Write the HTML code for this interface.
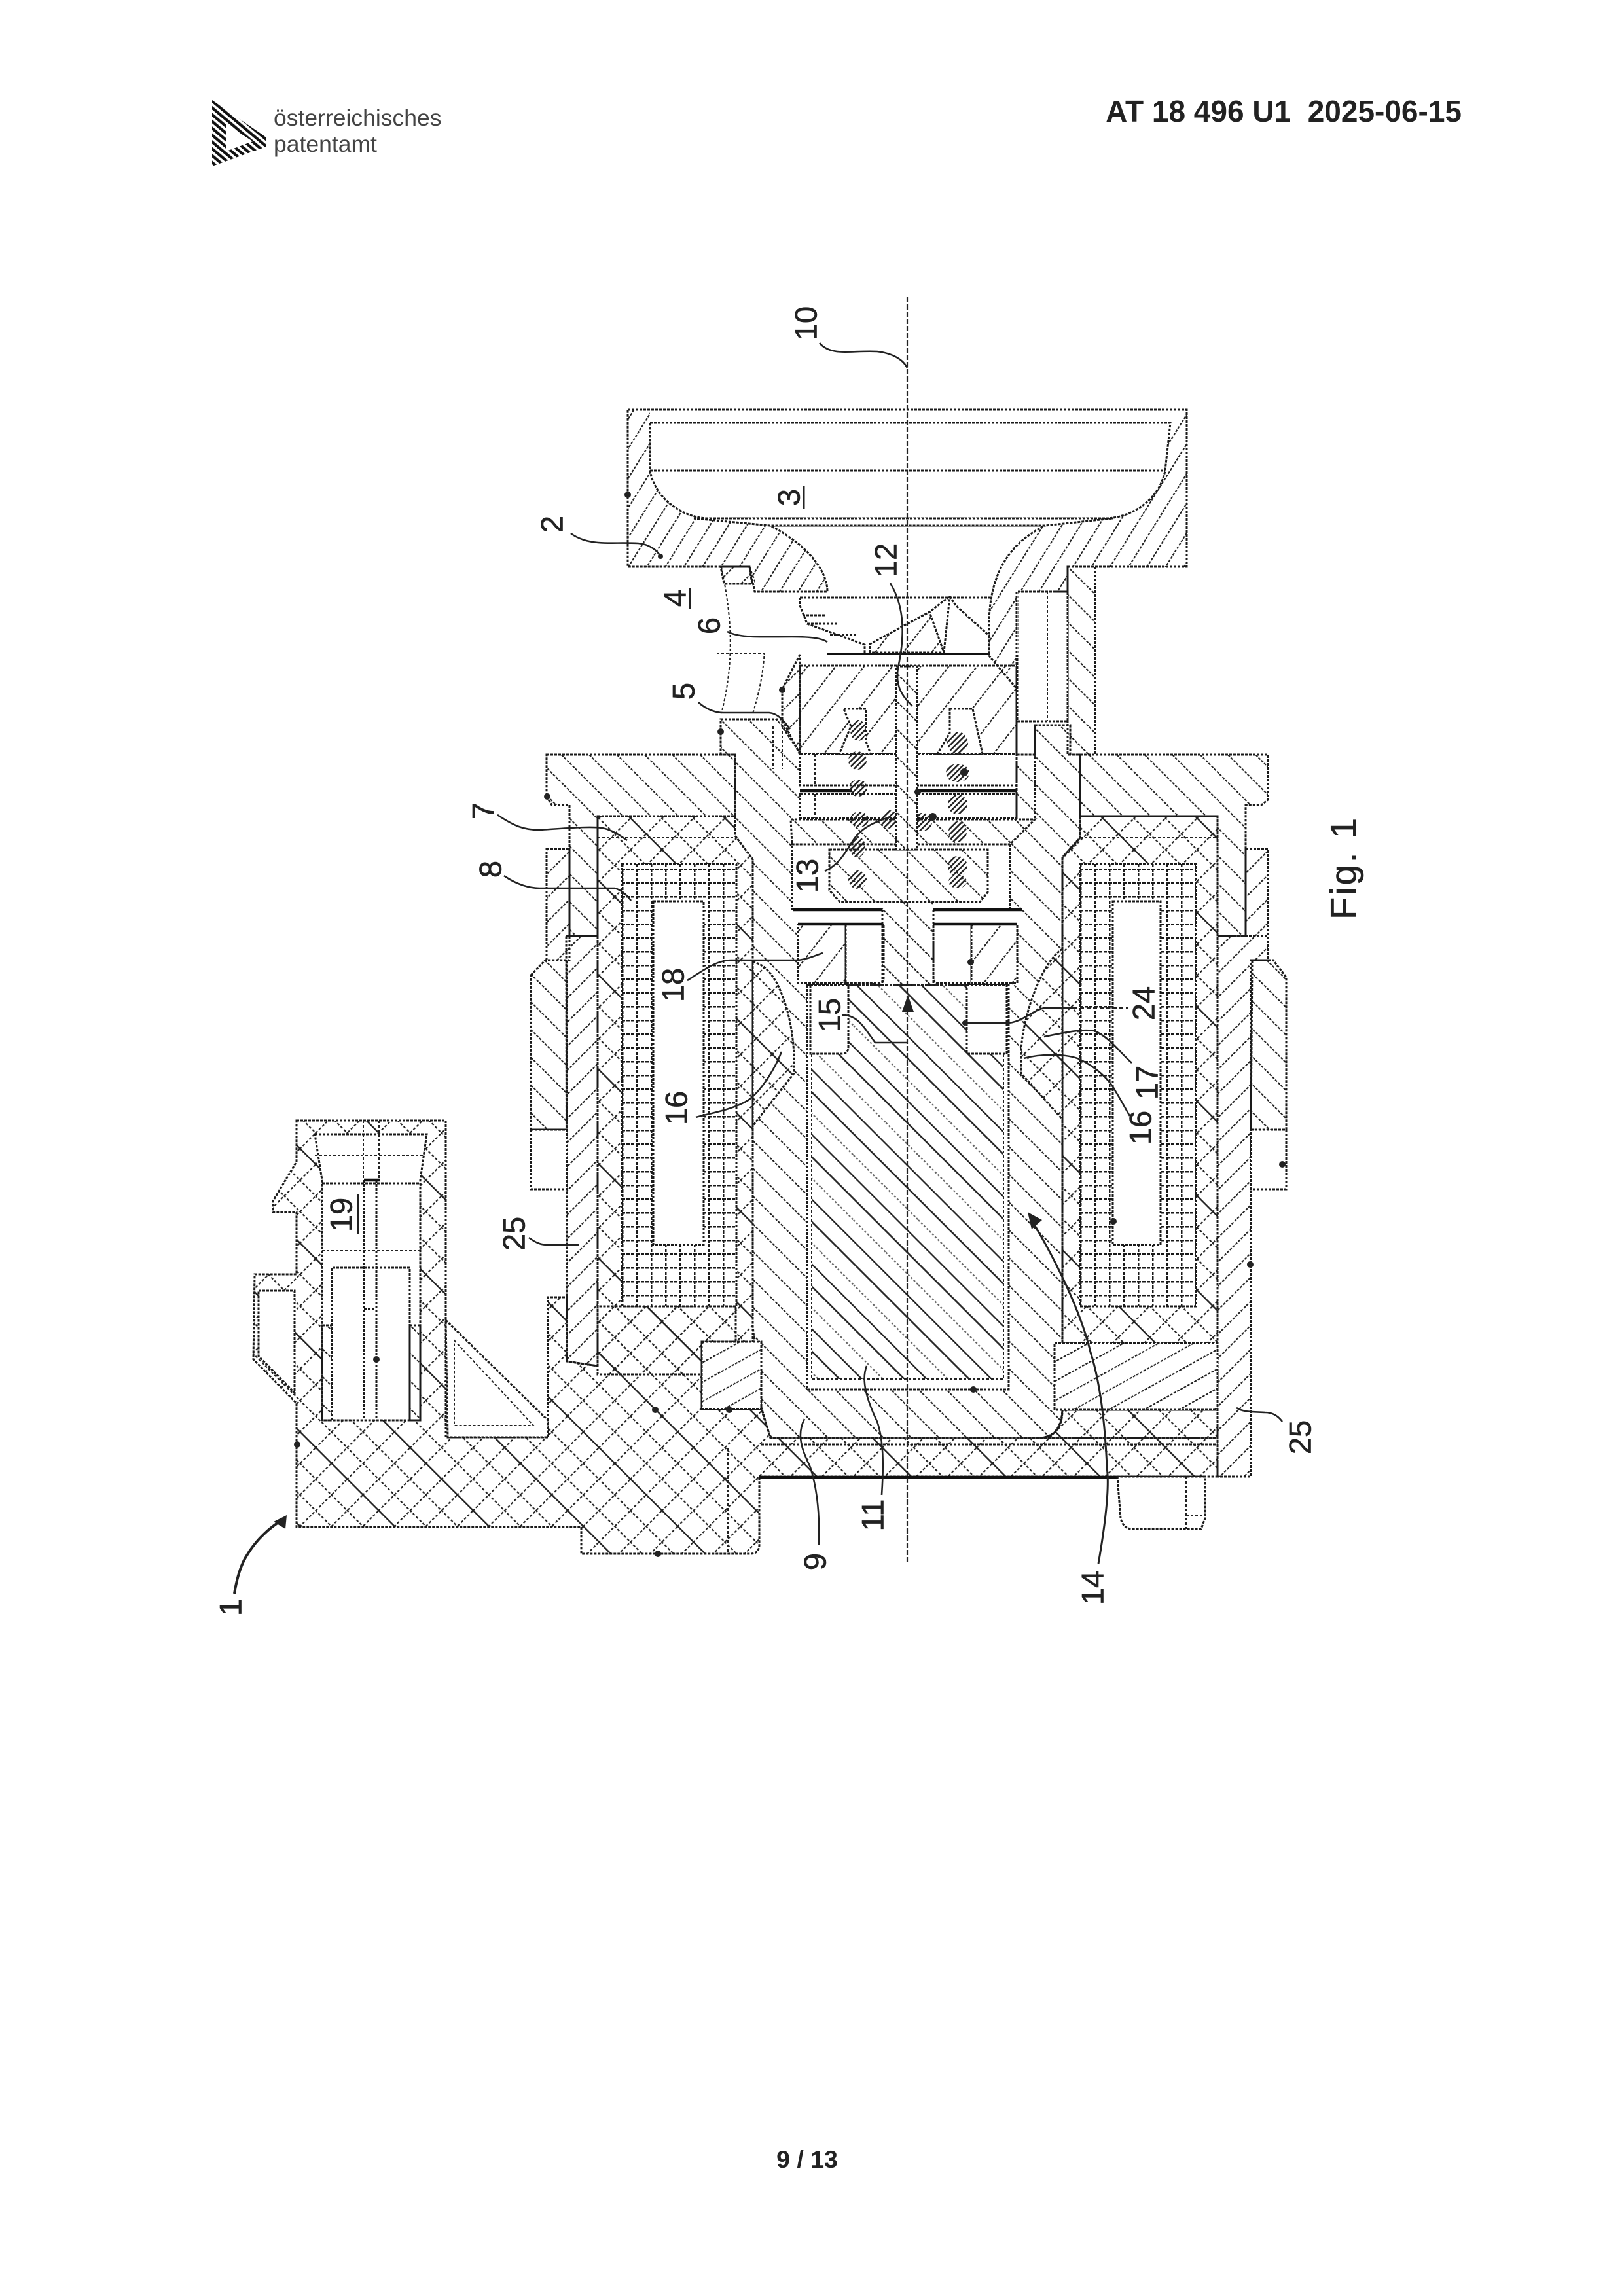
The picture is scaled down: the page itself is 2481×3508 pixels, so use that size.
<!DOCTYPE html>
<html><head><meta charset="utf-8"><style>
html,body{margin:0;padding:0;background:#fff}
svg{display:block}
.o{fill:none;stroke:#1a1a1a;stroke-width:3;stroke-dasharray:4 2}
.t{fill:none;stroke:#222;stroke-width:2;stroke-dasharray:4 3}
.b{fill:none;stroke:#111;stroke-width:4.5}
.w{fill:#fff;stroke:#1a1a1a;stroke-width:3;stroke-dasharray:4 2}
.l{fill:none;stroke:#222;stroke-width:2.6}
.n{font:47px "Liberation Sans",sans-serif;fill:#222;stroke:#222;stroke-width:.6;text-anchor:middle;dominant-baseline:central}
</style></head><body>
<svg xmlns="http://www.w3.org/2000/svg" width="2481" height="3508" viewBox="0 0 2481 3508">
<defs>
<pattern id="a" width="30" height="30" patternUnits="userSpaceOnUse" patternTransform="rotate(-45)"><line x1="1" y1="0" x2="1" y2="30" stroke="#222" stroke-width="2.2" stroke-dasharray="4 2"/></pattern>
<pattern id="c" width="24" height="30" patternUnits="userSpaceOnUse" patternTransform="rotate(32)"><line x1="1" y1="0" x2="1" y2="30" stroke="#222" stroke-width="2.2" stroke-dasharray="4 2"/></pattern>
<pattern id="e" width="34" height="30" patternUnits="userSpaceOnUse" patternTransform="rotate(38)"><line x1="1" y1="0" x2="1" y2="30" stroke="#222" stroke-width="2.2" stroke-dasharray="4 2"/></pattern>
<pattern id="f" width="26" height="30" patternUnits="userSpaceOnUse" patternTransform="rotate(61)"><line x1="1" y1="0" x2="1" y2="30" stroke="#222" stroke-width="2.2" stroke-dasharray="4 2"/></pattern>
<pattern id="d" width="26" height="30" patternUnits="userSpaceOnUse" patternTransform="rotate(45)"><line x1="1" y1="0" x2="1" y2="30" stroke="#222" stroke-width="2.2" stroke-dasharray="4 2"/></pattern>
<pattern id="x" width="102" height="34" patternUnits="userSpaceOnUse" patternTransform="rotate(-45)"><g stroke="#222" fill="none"><line x1="1" y1="0" x2="1" y2="34" stroke-width="2.8"/><line x1="35" y1="0" x2="35" y2="34" stroke-width="2.2" stroke-dasharray="4 3"/><line x1="69" y1="0" x2="69" y2="34" stroke-width="2.2" stroke-dasharray="4 3"/><line x1="0" y1="1" x2="102" y2="1" stroke-width="2.2" stroke-dasharray="4 3"/></g></pattern>
<pattern id="g1" x="4" y="4" width="22" height="21" patternUnits="userSpaceOnUse"><g stroke="#1a1a1a" stroke-width="3" stroke-dasharray="5 2"><line x1="1" y1="0" x2="1" y2="21"/><line x1="0" y1="1" x2="22" y2="1"/></g></pattern>
<pattern id="g2" x="0" y="4" width="22" height="21" patternUnits="userSpaceOnUse"><g stroke="#1a1a1a" stroke-width="3" stroke-dasharray="5 2"><line x1="1" y1="0" x2="1" y2="21"/><line x1="0" y1="1" x2="22" y2="1"/></g></pattern>
<pattern id="k" width="70" height="70" patternUnits="userSpaceOnUse" patternTransform="rotate(-45)"><g stroke="#222" fill="none"><line x1="1" y1="0" x2="1" y2="70" stroke-width="2.6"/><line x1="24" y1="0" x2="24" y2="70" stroke-width="2.2" stroke-dasharray="3 3" stroke-opacity=".7"/><line x1="47" y1="0" x2="47" y2="70" stroke-width="2.6"/></g></pattern>
<pattern id="m" width="6" height="6" patternUnits="userSpaceOnUse" patternTransform="rotate(45)"><line x1="1" y1="0" x2="1" y2="6" stroke="#222" stroke-width="3"/></pattern>
<pattern id="lg" width="8" height="8" patternUnits="userSpaceOnUse" patternTransform="rotate(-50)"><line x1="2" y1="0" x2="2" y2="8" stroke="#111" stroke-width="4.6"/></pattern>
</defs>
<rect width="2481" height="3508" fill="#fff"/>

<!-- header -->
<path d="M324,153 L407,210 V224 L324,254 Z M346,190 V231 L386,216 Z" fill="url(#lg)" fill-rule="evenodd"/>
<text x="418" y="192" font-family="Liberation Sans,sans-serif" font-size="35.5" fill="#444">österreichisches</text>
<text x="418" y="232" font-family="Liberation Sans,sans-serif" font-size="35.5" fill="#444">patentamt</text>
<text x="2233" y="186" font-family="Liberation Sans,sans-serif" font-size="46" font-weight="bold" text-anchor="end" fill="#222" xml:space="preserve">AT 18 496 U1  2025-06-15</text>
<text x="1233" y="3312" font-family="Liberation Sans,sans-serif" font-size="37.5" font-weight="bold" text-anchor="middle" fill="#222">9 / 13</text>

<!-- outer walls 25 -->
<path class="o" style="fill:url(#d)" d="M865,1430 H913 V2087 L866,2080 Z"/>
<path class="o" style="fill:url(#d)" d="M1860,1430 H1937 V1467 H1911 V2256 H1860 Z"/>

<!-- outer rings -->
<path class="o" style="fill:url(#a)" d="M811,1490 L833,1467 H866 V1726 H811 Z"/>
<path class="o" style="fill:#fff" d="M811,1726 H866 V1817 H811 Z"/>
<path class="o" style="fill:url(#d)" d="M835,1297 H870 V1467 H835 Z"/>
<path class="o" style="fill:url(#a)" d="M1913,1467 H1945 L1965,1493 V1726 H1911 Z"/>
<path class="o" style="fill:#fff" d="M1911,1726 H1965 V1817 H1911 Z"/>
<path class="o" style="fill:url(#d)" d="M1903,1297 H1937 V1430 H1903 Z"/>

<!-- bobbins cross hatch -->
<path class="o" style="fill:url(#x)" d="M913,1247 H1123 V1277 L1150,1313 V2100 H913 Z"/>
<path class="o" style="fill:url(#x)" d="M1860,1247 H1650 V1280 L1623,1310 V2052 H1860 Z"/>
<line class="t" x1="913" y1="1280" x2="1123" y2="1280"/>
<line class="t" x1="1650" y1="1280" x2="1860" y2="1280"/>

<!-- connector + overmould -->
<path class="o" style="fill:url(#x)" d="M453,1712 H681 V2196 H837 V1982 H866 V2080 L913,2087 V1996 H1124 V2050 H1072 V2153 H1163 L1177,2197 H1860 V2256 H1160 V2360 Q1160,2374 1146,2374 H888 V2333 H453 V2144 L387,2077 L389,1947 H453 V1852 H417 V1835 L453,1775 Z"/>
<path class="o" style="fill:url(#x)" d="M1623,2154 H1860 V2197 H1585 Q1623,2197 1623,2154 Z"/>
<line class="t" x1="1112" y1="2213" x2="1112" y2="2373"/>
<!-- gusset -->
<path class="o" style="fill:#fff" d="M681,2017 L837,2170 V2196 H684 Z"/>
<path class="t" d="M694,2048 L815,2178 H694 Z"/>
<!-- clip -->
<path class="o" style="fill:#fff" d="M395,1972 H450 V2128 L395,2072 Z"/>
<!-- connector interior -->
<path class="o" style="fill:#fff" d="M481,1733 H652 L642,1803 V2170 H492 V1803 Z"/>
<line class="t" x1="481" y1="1765" x2="650" y2="1765"/>
<line class="t" x1="492" y1="1911" x2="642" y2="1911"/>
<line class="o" x1="492" y1="1808" x2="642" y2="1808"/>
<path class="o" d="M507,2170 V1937 H626 V2170"/>
<path class="o" style="fill:url(#a)" d="M492,2025 H507 V2170 H492 Z"/>
<path class="o" style="fill:url(#a)" d="M626,2025 H642 V2170 H626 Z"/>
<path class="o" d="M556,1803 V2170 M575,1803 V2170 M556,2000 H575"/>
<line class="t" x1="555" y1="1712" x2="555" y2="1803"/><line class="t" x1="579" y1="1712" x2="579" y2="1803"/>
<line class="b" x1="556" y1="1803" x2="580" y2="1803"/>

<!-- coils -->
<rect x="950" y="1320" width="175" height="676" fill="#fff"/>
<rect x="950" y="1320" width="175" height="676" style="fill:url(#g1)" class="o"/>
<rect x="998" y="1377" width="77" height="525" class="w"/>
<rect x="1650" y="1320" width="177" height="676" fill="#fff"/>
<rect x="1650" y="1320" width="177" height="676" style="fill:url(#g2)" class="o"/>
<rect x="1700" y="1377" width="73" height="525" class="w"/>

<!-- flange 7 -->
<path class="o" style="fill:url(#a)" d="M835,1153 H1123 V1247 H913 V1430 H870 V1230 H843 L835,1217 Z"/>
<path class="o" style="fill:url(#a)" d="M1650,1153 H1937 V1222 L1927,1230 H1903 V1430 H1860 V1247 H1650 Z"/>

<!-- neck -->
<path class="t" d="M1102,866 C1115,930 1125,1000 1102,1090 M1145,866 C1175,940 1175,1010 1150,1090 M1095,998 H1172"/>
<path class="o" style="fill:url(#d)" d="M1101,866 H1145 L1149,892 H1106 Z"/>
<path class="o" style="fill:url(#a)" d="M1631,866 H1673 V1153 H1631 Z"/>

<!-- yoke 9 -->
<path class="o" style="fill:url(#a)" d="M1101,1099 H1195 L1222,1153 H1581 V1108 H1635 V1153 H1650 V1280 L1623,1310 V2150 Q1623,2197 1585,2197 H1177 L1163,2150 L1150,2026 V1313 L1123,1277 V1153 H1101 Z"/>
<path class="t" d="M1181,1110 V1175 M1195,1110 V1175"/>
<!-- bulges 16 -->
<path fill="#fff" d="M1150,1470 C1190,1475 1213,1560 1213,1620 L1213,1640 L1150,1720 Z"/>
<path class="o" style="fill:url(#x)" d="M1150,1470 C1190,1475 1213,1560 1213,1620 L1213,1640 L1150,1720 Z"/>
<path fill="#fff" d="M1623,1450 C1590,1470 1560,1560 1560,1610 L1560,1640 L1623,1710 Z"/>
<path class="o" style="fill:url(#x)" d="M1623,1450 C1590,1470 1560,1560 1560,1610 L1560,1640 L1623,1710 Z"/>
<!-- bottom blocks -->
<rect x="1072" y="2050" width="91" height="103" fill="#fff"/>
<rect class="o" x="1072" y="2050" width="91" height="103" style="fill:url(#f)"/>
<rect x="1611" y="2052" width="249" height="102" fill="#fff"/>
<rect class="o" x="1611" y="2052" width="249" height="102" style="fill:url(#f)"/>
<line class="o" x1="1163" y1="2207" x2="1860" y2="2207"/>
<line class="b" x1="1160" y1="2257" x2="1840" y2="2257"/>
<path class="o" style="fill:#fff" d="M1707,2256 L1712,2320 Q1716,2336 1730,2336 H1835 L1841,2320 V2256 Z"/>
<path class="t" d="M1812,2256 V2336 M1812,2315 H1841"/>

<!-- core 11 -->
<rect class="o" x="1233" y="1505" width="308" height="618" style="fill:#fff"/>
<rect class="t" x="1240" y="1505" width="293" height="602" style="fill:url(#k)"/>
<path class="w" d="M1238,1505 H1296 V1600 Q1296,1610 1286,1610 H1238 Z"/>
<path class="w" d="M1477,1505 H1538 V1610 H1477 Z"/>

<!-- pole pieces 18 -->
<rect x="1219" y="1412" width="73" height="90" fill="#fff"/>
<rect class="o" x="1219" y="1412" width="73" height="90" style="fill:url(#e)"/>
<path class="w" d="M1292,1412 H1350 V1494 Q1350,1502 1342,1502 H1292 Z"/>
<path class="w" d="M1426,1412 H1484 V1502 H1434 Q1426,1502 1426,1494 Z"/>
<rect x="1484" y="1412" width="70" height="90" fill="#fff"/>
<rect class="o" x="1484" y="1412" width="70" height="90" style="fill:url(#e)"/>

<!-- lower valve block -->
<rect x="1208" y="1252" width="335" height="160" fill="#fff"/>
<rect x="1348" y="1378" width="78" height="34" fill="#fff"/>
<rect x="1348" y="1378" width="78" height="127" style="fill:url(#a)"/>
<path class="o" style="fill:url(#a)" d="M1208,1252 H1581 L1543,1290 H1210 Z"/>
<path class="o" style="fill:url(#a)" d="M1267,1298 H1509 V1363 L1497,1378 H1283 L1267,1360 Z"/>
<path class="o" d="M1210,1286 V1390 M1543,1290 V1390 M1348,1390 V1505 M1426,1390 V1505"/>
<path class="b" d="M1212,1390 H1348 M1426,1390 H1562 M1219,1412 H1348 M1426,1412 H1554"/>

<!-- upper insert -->
<rect x="1222" y="997" width="331" height="255" fill="#fff"/>
<path class="o" style="fill:url(#e)" d="M1222,1017 H1553 V1152 H1222 Z"/>
<rect class="w" x="1222" y="1152" width="331" height="48"/>
<rect class="w" x="1222" y="1213" width="331" height="37"/>
<path class="t" d="M1245,1152 V1200 M1245,1213 V1250"/>
<path class="b" d="M1222,1208 H1302 M1401,1208 H1553 M1264,998 H1512"/>
<path class="o" d="M1270,1017 H1500"/>
<path class="o" style="fill:#fff" d="M1289,1083 H1323 V1133 L1330,1152 H1282 L1300,1110 Z"/>
<path class="o" style="fill:#fff" d="M1451,1083 H1486 L1501,1152 H1432 L1451,1120 Z"/>
<path class="o" d="M1553,1000 V1250 M1581,1108 V1250"/>
<g fill="url(#m)">
<ellipse cx="1311" cy="1116" rx="12" ry="16"/><ellipse cx="1463" cy="1135" rx="16" ry="17"/><ellipse cx="1310" cy="1162" rx="14" ry="14"/><ellipse cx="1463" cy="1181" rx="18" ry="14"/><ellipse cx="1311" cy="1204" rx="14" ry="13"/><ellipse cx="1463" cy="1229" rx="15" ry="15"/><ellipse cx="1313" cy="1252" rx="14" ry="12"/><ellipse cx="1359" cy="1252" rx="13" ry="14"/><ellipse cx="1409" cy="1256" rx="15" ry="14"/><ellipse cx="1463" cy="1271" rx="14" ry="16"/><ellipse cx="1310" cy="1294" rx="12" ry="16"/><ellipse cx="1310" cy="1344" rx="14" ry="14"/><ellipse cx="1463" cy="1324" rx="15" ry="16"/><ellipse cx="1463" cy="1347" rx="14" ry="10"/>
</g>
<rect class="w" x="1554" y="904" width="77" height="198"/>
<line class="t" x1="1600" y1="904" x2="1600" y2="1102"/>

<!-- cup 2 -->
<path fill="#fff" d="M1153,803 H1555 V997 H1153 Z"/>
<path class="o" style="fill:url(#c)" d="M959,626 H1813 V866 H1631 V904 H1553 V1052 L1511,1002 V955 C1511,880 1540,830 1597,803 H1176 C1230,830 1264,870 1264,904 H1153 L1145,866 H959 Z"/>
<rect x="993" y="627" width="795" height="19" fill="#fff"/>
<path class="o" style="fill:#fff" d="M993,646 H1788 L1780,719 C1770,770 1720,792 1689,792 H1080 C1040,790 1000,760 993,719 Z"/>
<path class="o" d="M993,719 H1780 M959,626 H1813"/>
<path class="o" style="fill:#fff" d="M1060,792 H1700 L1597,803 H1176 Z"/>

<!-- valve space -->
<path class="o" d="M1222,913 H1512"/>
<path class="o" d="M1222,913 L1222,925 L1233,953 L1321,985 V997 M1226,940 H1262 M1233,953 H1280 M1268,970 H1310"/>
<path class="o" style="fill:url(#e)" d="M1329,997 V984 L1386,953 L1420,935 L1442,997 Z"/>
<path class="o" d="M1386,953 L1420,935 L1451,911 L1460,925 L1512,972 M1442,997 L1451,911"/>
<path class="o" style="fill:url(#d)" d="M1222,1000 L1195,1053 V1110 L1222,1150 Z"/>

<!-- stem -->
<rect x="1369" y="1018" width="32" height="280" fill="#fff"/>
<rect x="1369" y="1018" width="32" height="280" style="fill:url(#a)" class="o"/>

<!-- axis -->
<line x1="1386" y1="454" x2="1386" y2="2390" stroke="#222" stroke-width="2.2" stroke-dasharray="8 3"/>
<polygon points="1387,1520 1396,1546 1378,1546" fill="#222"/>

<!-- leaders -->
<g class="l">
<path d="M1252,524 C1270,545 1300,535 1340,537 C1365,540 1380,550 1386,562"/>
<path d="M872,815 C900,835 930,828 975,830 C995,832 1005,843 1009,850"/>
<path d="M1111,965 C1130,975 1160,973 1210,973 C1240,973 1255,975 1264,981"/>
<path d="M1067,1073 C1080,1085 1095,1089 1105,1089 H1175 C1190,1090 1200,1105 1207,1114"/>
<path d="M1360,891 C1378,920 1385,960 1372,1020 C1367,1050 1380,1065 1394,1079"/>
<path d="M760,1245 C785,1262 800,1268 824,1268 C860,1266 900,1262 920,1265 C935,1268 945,1275 958,1284"/>
<path d="M770,1338 C790,1352 810,1357 824,1357 H939 C950,1360 958,1368 964,1376"/>
<path d="M1260,1331 C1285,1320 1295,1295 1306,1280 C1320,1262 1340,1255 1360,1248"/>
<path d="M1050,1498 C1075,1482 1095,1467 1117,1467 H1220 C1235,1465 1245,1460 1257,1456"/>
<path d="M1063,1707 C1090,1700 1120,1695 1143,1681 C1165,1665 1185,1630 1194,1607"/>
<path d="M808,1891 C820,1900 828,1902 837,1902 H885"/>
<path d="M358,2435 C362,2410 368,2390 378,2375 C392,2352 412,2334 430,2323" stroke-width="4"/>
<path d="M1286,1551 C1310,1550 1320,1570 1337,1593 H1387"/>
<path d="M1474,1563 H1538 C1560,1563 1575,1545 1595,1540 H1640"/><path d="M1640,1540 H1723" stroke-dasharray="6 4"/>
<path d="M1595,1584 C1625,1578 1650,1572 1672,1575 C1695,1585 1710,1607 1729,1624"/>
<path d="M1564,1617 C1590,1610 1625,1610 1646,1617 C1675,1630 1695,1650 1704,1667 C1715,1685 1720,1695 1726,1705"/>
<path d="M1678,2389 C1690,2320 1695,2270 1691,2242 C1688,2170 1680,2110 1666,2066 C1650,2000 1610,1920 1573,1859" stroke-width="3"/>
<path d="M1959,2172 C1950,2160 1940,2158 1933,2158 C1915,2157 1900,2158 1889,2151"/>
<path d="M1251,2361 C1252,2320 1250,2280 1238,2242 C1228,2220 1215,2195 1229,2168"/>
<path d="M1347,2284 C1350,2240 1350,2200 1340,2172 C1325,2140 1315,2110 1324,2087"/>
</g>
<polygon points="438,2315 436,2336 418,2325" fill="#222"/>
<polygon points="1570,1852 1592,1864 1576,1878" fill="#222"/>

<!-- dots -->
<g fill="#222">
<circle cx="959" cy="756" r="5"/><circle cx="1195" cy="1054" r="5"/><circle cx="1101" cy="1118" r="5"/><circle cx="836" cy="1217" r="5"/><circle cx="575" cy="2077" r="5"/><circle cx="454" cy="2207" r="5"/><circle cx="1001" cy="2154" r="5"/><circle cx="1114" cy="2154" r="5"/><circle cx="1005" cy="2374" r="5"/><circle cx="1483" cy="1470" r="5"/><circle cx="1959" cy="1779" r="5"/><circle cx="1910" cy="1932" r="5"/><circle cx="1701" cy="1866" r="5"/><circle cx="1487" cy="2123" r="5"/><circle cx="1473" cy="1180" r="6"/><circle cx="1402" cy="1210" r="5"/><circle cx="1425" cy="1248" r="6"/><circle cx="1009" cy="850" r="4"/><circle cx="1474" cy="1563" r="4"/>
</g>

<!-- labels -->
<g>
<text transform="translate(1231,494) rotate(-90)" class="n">10</text>
<text transform="translate(843,801) rotate(-90)" class="n">2</text>
<text transform="translate(1205,760) rotate(-90)" class="n">3</text>
<text transform="translate(1031,914) rotate(-90)" class="n">4</text>
<text transform="translate(1083,956) rotate(-90)" class="n">6</text>
<text transform="translate(1044,1056) rotate(-90)" class="n">5</text>
<text transform="translate(1353,856) rotate(-90)" class="n">12</text>
<text transform="translate(738,1239) rotate(-90)" class="n">7</text>
<text transform="translate(749,1328) rotate(-90)" class="n">8</text>
<text transform="translate(1233,1338) rotate(-90)" class="n">13</text>
<text transform="translate(1028,1505) rotate(-90)" class="n">18</text>
<text transform="translate(1033,1693) rotate(-90)" class="n">16</text>
<text transform="translate(785,1885) rotate(-90)" class="n">25</text>
<text transform="translate(521,1856) rotate(-90)" class="n">19</text>
<text transform="translate(352,2456) rotate(-90)" class="n">1</text>
<text transform="translate(1267,1551) rotate(-90)" class="n">15</text>
<text transform="translate(1747,1533) rotate(-90)" class="n">24</text>
<text transform="translate(1752,1654) rotate(-90)" class="n">17</text>
<text transform="translate(1742,1723) rotate(-90)" class="n">16</text>
<text transform="translate(1986,2196) rotate(-90)" class="n">25</text>
<text transform="translate(1245,2386) rotate(-90)" class="n">9</text>
<text transform="translate(1333,2315) rotate(-90)" class="n">11</text>
<text transform="translate(1669,2426) rotate(-90)" class="n">14</text>
<text transform="translate(2052,1326) rotate(-90)" class="n" style="font-size:56px;letter-spacing:3px">Fig. 1</text>
</g>
<path d="M1228,742 V778 M1054,898 V930 M547,1825 V1885" stroke="#222" stroke-width="3" fill="none"/>
</svg>
</body></html>
